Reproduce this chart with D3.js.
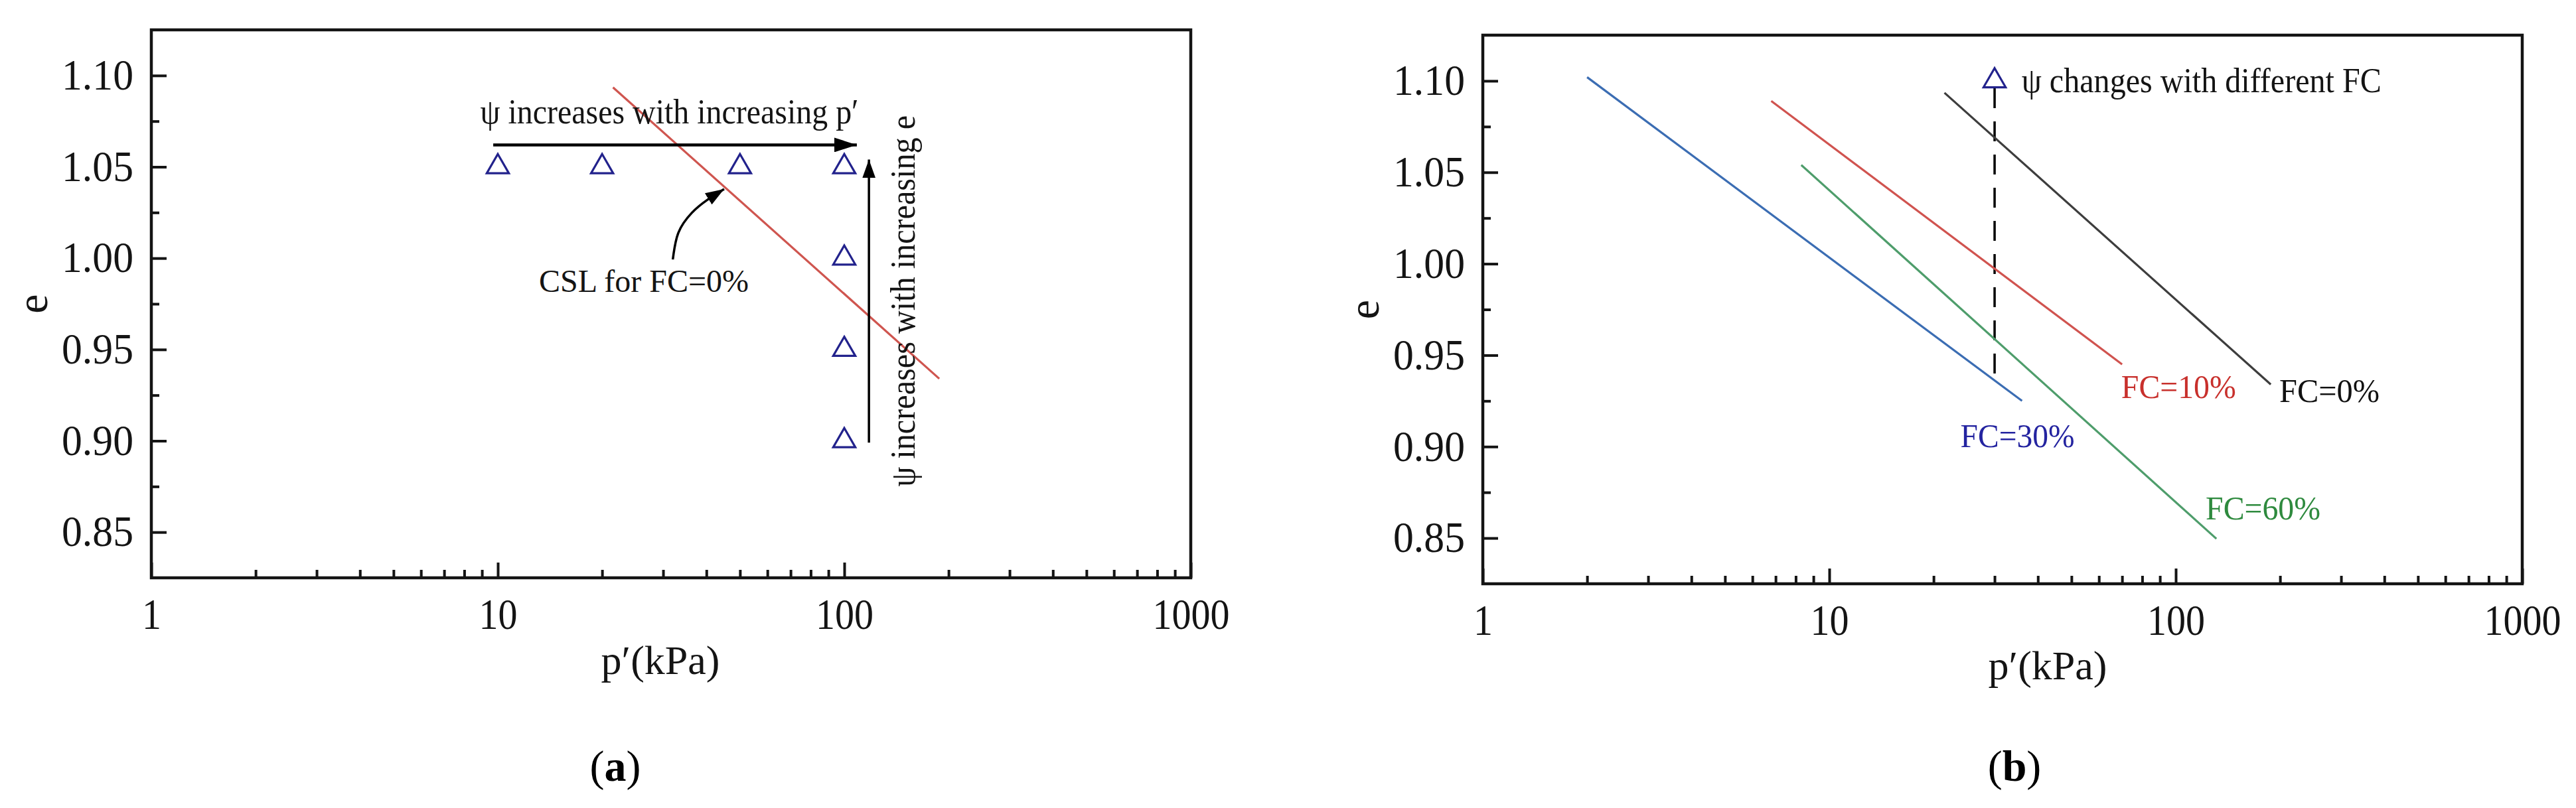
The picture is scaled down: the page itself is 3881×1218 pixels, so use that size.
<!DOCTYPE html>
<html>
<head>
<meta charset="utf-8">
<script src="https://cdn.jsdelivr.net/npm/d3@7"></script>
<style>
  body { margin: 0; background: #fff; }
  svg { display: block; }
  text { font-family: "Liberation Serif", "Times New Roman", serif; }
</style>
</head>
<body>
<svg id="chart" width="3881" height="1218"></svg>
<script>
// ---------------- data ----------------
const xDomain = [1, 1000];
const yDomain = [0.825, 1.125];
const xTickValues = [1, 10, 100, 1000];
const xMinorTicks = [2, 3, 4, 5, 6, 7, 8, 9, 20, 30, 40, 50, 60, 70, 80, 90, 200, 300, 400, 500, 600, 700, 800, 900];
const yTickValues = [0.85, 0.90, 0.95, 1.00, 1.05, 1.10];
const yMinorTicks = [0.875, 0.925, 0.975, 1.025, 1.075];
const xTitle = "p\u2032(kPa)";
const yTitle = "e";

// panel (a): initial states and CSL for FC=0%
const stateP = [10, 20, 50, 100, 100, 100, 100];
const stateE = [1.05, 1.05, 1.05, 1.05, 1.00, 0.95, 0.90];
const cslA_P = [21.5, 188];
const cslA_E = [1.0935, 0.934];

// panel (a) annotations (data units)
const hArrowP = [9.7, 108.7];
const hArrowE = 1.062;
const hText = "\u03C8 increases with increasing p\u2032";
const hTextPos = [8.9, 1.0738];
const vArrowP = 117.8;
const vArrowE = [0.899, 1.054];
const vText = "\u03C8 increases with increasing e";
const vTextPos = [159.6, 0.9765];
const cslText = "CSL for FC=0%";
const cslTextPos = [13.15, 0.9815];
const curveP = [32.0, 33.2, 36.3, 40.1, 45.0];
const curveE = [0.9993, 1.0139, 1.0248, 1.0317, 1.0378];

// panel (b): CSLs for different fines contents
const fcLabels = ["FC=0%", "FC=10%", "FC=30%", "FC=60%"];
const fcColors = ["#3d3d3d", "#d0534f", "#3b6db3", "#4e9d6b"];
const fcTextColors = ["#111111", "#c8302c", "#2424a0", "#2e8a3e"];
const fcP = [[21.5, 188], [6.8, 70], [2.0, 36], [8.3, 131]];
const fcE = [[1.0935, 0.934], [1.089, 0.945], [1.102, 0.925], [1.054, 0.8496]];
const fcLabelP = [199, 69.6, 23.9, 122];
const fcLabelE = [0.9306, 0.9327, 0.906, 0.8664];
const fcLabelLen = [151, 173, 172, 173];

const bStateP = [30];
const bStateE = [1.10];
const dashP = 30;
const dashE = [1.096, 0.936];
const bText = "\u03C8 changes with different FC";
const bTextPos = [35.9, 1.10];

const captions = ["a", "b"];

// ---------------- drawing ----------------
const svg = d3.select("#chart");
svg.append("rect").attr("width", 3881).attr("height", 1218).attr("fill", "#fff");

const defs = svg.append("defs");
function marker(id, len, wid) {
  defs.append("marker")
    .attr("id", id)
    .attr("viewBox", `0 0 ${len} ${wid}`)
    .attr("refX", len).attr("refY", wid / 2)
    .attr("markerWidth", len).attr("markerHeight", wid)
    .attr("markerUnits", "userSpaceOnUse")
    .attr("orient", "auto")
    .append("path")
    .attr("d", `M0,0L${len},${wid / 2}L0,${wid}Z`)
    .attr("fill", "#000");
}
marker("arrowBig", 34, 22);
marker("arrowSmall", 28, 20);

const ink = "#141414";

function makePanel(box, letter, titleX, titleY, capX) {
  const g = svg.append("g");
  const x = d3.scaleLog().domain(xDomain).range([box.x0, box.x1]);
  const y = d3.scaleLinear().domain(yDomain).range([box.y1, box.y0]);

  // minor ticks
  g.append("g").attr("transform", `translate(0,${box.y1})`)
    .call(d3.axisBottom(x).tickValues(xMinorTicks).tickSize(-12).tickSizeOuter(0).tickFormat(""));
  g.append("g").attr("transform", `translate(${box.x0},0)`)
    .call(d3.axisLeft(y).tickValues(yMinorTicks).tickSize(-12).tickSizeOuter(0).tickFormat(""));
  // major ticks
  const gx = g.append("g").attr("transform", `translate(0,${box.y1})`)
    .call(d3.axisBottom(x).tickValues(xTickValues).tickSize(-23).tickSizeOuter(0).tickPadding(31).tickFormat(d3.format("d")));
  const gy = g.append("g").attr("transform", `translate(${box.x0},0)`)
    .call(d3.axisLeft(y).tickValues(yTickValues).tickSize(-23).tickSizeOuter(0).tickPadding(27).tickFormat(d3.format(".2f")));

  g.selectAll(".domain").remove();
  g.selectAll(".tick line").attr("stroke", ink).attr("stroke-width", 4);
  g.selectAll(".tick text").attr("font-family", "Liberation Serif, serif").attr("font-size", 65).attr("fill", ink)
    .attr("lengthAdjust", "spacingAndGlyphs");
  gy.selectAll(".tick text").attr("textLength", 108);
  gx.selectAll(".tick text").attr("textLength", function () { return this.textContent.length * 29; });

  // frame
  g.append("rect")
    .attr("x", box.x0).attr("y", box.y0)
    .attr("width", box.x1 - box.x0).attr("height", box.y1 - box.y0)
    .attr("fill", "none").attr("stroke", ink).attr("stroke-width", 4.5);

  // axis titles
  g.append("text").attr("x", titleX).attr("y", titleY)
    .attr("text-anchor", "middle").attr("font-size", 62).attr("fill", ink).text(xTitle);
  g.append("text")
    .attr("transform", `translate(${box.x0 - 180},${(box.y0 + box.y1) / 2}) rotate(-90)`)
    .attr("text-anchor", "middle").attr("dominant-baseline", "central")
    .attr("font-size", 66).attr("fill", ink).text(yTitle);

  // caption
  const cap = g.append("text").attr("x", capX).attr("y", 1177)
    .attr("text-anchor", "middle").attr("font-size", 66).attr("fill", "#000");
  cap.append("tspan").text("(");
  cap.append("tspan").attr("font-weight", "bold").text(letter);
  cap.append("tspan").text(")");

  return { g, x, y };
}

const triSym = d3.symbol().type(d3.symbolTriangle).size(480);

// ---------- panel (a) ----------
const A = makePanel({ x0: 228, x1: 1794, y0: 45, y1: 871 }, captions[0], 995, 1016, 927);
{
  const { g, x, y } = A;
  // CSL line
  g.append("path")
    .datum(cslA_P.map((p, i) => [p, cslA_E[i]]))
    .attr("d", d3.line().x(d => x(d[0])).y(d => y(d[1])))
    .attr("fill", "none").attr("stroke", "#cf554f").attr("stroke-width", 3.2);

  // states
  g.selectAll("path.state")
    .data(stateP.map((p, i) => [p, stateE[i]]))
    .join("path").attr("class", "state")
    .attr("transform", d => `translate(${x(d[0])},${y(d[1])})`)
    .attr("d", triSym)
    .attr("fill", "none").attr("stroke", "#22228c").attr("stroke-width", 3.2);

  // horizontal arrow
  g.append("line")
    .attr("x1", x(hArrowP[0])).attr("x2", x(hArrowP[1]))
    .attr("y1", y(hArrowE)).attr("y2", y(hArrowE))
    .attr("stroke", "#000").attr("stroke-width", 4.5)
    .attr("marker-end", "url(#arrowBig)");
  g.append("text")
    .attr("x", x(hTextPos[0])).attr("y", y(hTextPos[1]))
    .attr("font-size", 52).attr("fill", ink)
    .attr("textLength", 570).attr("lengthAdjust", "spacingAndGlyphs")
    .text(hText);

  // vertical arrow
  g.append("line")
    .attr("x1", x(vArrowP)).attr("x2", x(vArrowP))
    .attr("y1", y(vArrowE[0])).attr("y2", y(vArrowE[1]))
    .attr("stroke", "#000").attr("stroke-width", 3.5)
    .attr("marker-end", "url(#arrowSmall)");
  g.append("text")
    .attr("transform", `translate(${x(vTextPos[0])},${y(vTextPos[1])}) rotate(-90)`)
    .attr("text-anchor", "middle")
    .attr("font-size", 52).attr("fill", ink)
    .attr("textLength", 560).attr("lengthAdjust", "spacingAndGlyphs")
    .text(vText);

  // CSL label and curved arrow
  g.append("text")
    .attr("x", x(cslTextPos[0])).attr("y", y(cslTextPos[1]))
    .attr("font-size", 48).attr("fill", ink)
    .attr("textLength", 316).attr("lengthAdjust", "spacingAndGlyphs")
    .text(cslText);
  g.append("path")
    .datum(curveP.map((p, i) => [p, curveE[i]]))
    .attr("d", d3.line().x(d => x(d[0])).y(d => y(d[1])).curve(d3.curveNatural))
    .attr("fill", "none").attr("stroke", "#000").attr("stroke-width", 3.5)
    .attr("marker-end", "url(#arrowSmall)");
}

// ---------- panel (b) ----------
const B = makePanel({ x0: 2234, x1: 3800, y0: 53, y1: 880 }, captions[1], 3085, 1024, 3035);
{
  const { g, x, y } = B;
  // dashed line
  g.append("line")
    .attr("x1", x(dashP)).attr("x2", x(dashP))
    .attr("y1", y(dashE[0])).attr("y2", y(dashE[1]))
    .attr("stroke", "#000").attr("stroke-width", 3.5)
    .attr("stroke-dasharray", "30,20");

  // CSL lines
  fcLabels.forEach((lab, i) => {
    g.append("path")
      .datum(fcP[i].map((p, k) => [p, fcE[i][k]]))
      .attr("d", d3.line().x(d => x(d[0])).y(d => y(d[1])))
      .attr("fill", "none").attr("stroke", fcColors[i]).attr("stroke-width", 3.2);
    g.append("text")
      .attr("x", x(fcLabelP[i])).attr("y", y(fcLabelE[i]))
      .attr("dominant-baseline", "central")
      .attr("font-size", 50).attr("fill", fcTextColors[i])
      .attr("textLength", fcLabelLen[i]).attr("lengthAdjust", "spacingAndGlyphs")
      .text(lab);
  });

  g.selectAll("path.state")
    .data(bStateP.map((p, i) => [p, bStateE[i]]))
    .join("path").attr("class", "state")
    .attr("transform", d => `translate(${x(d[0])},${y(d[1])})`)
    .attr("d", triSym)
    .attr("fill", "#fff").attr("stroke", "#22228c").attr("stroke-width", 3.2);

  g.append("text")
    .attr("x", x(bTextPos[0])).attr("y", y(bTextPos[1]))
    .attr("dominant-baseline", "central")
    .attr("font-size", 52).attr("fill", ink)
    .attr("textLength", 542).attr("lengthAdjust", "spacingAndGlyphs")
    .text(bText);
}
</script>
</body>
</html>
